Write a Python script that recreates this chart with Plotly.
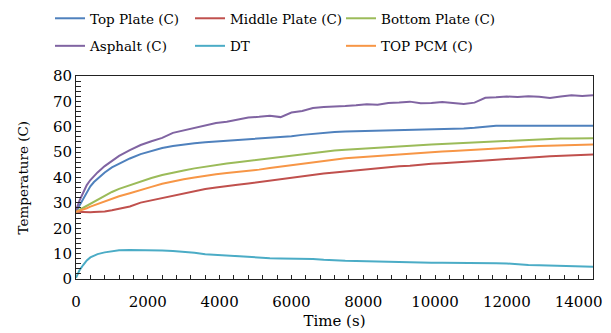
import plotly.graph_objects as go

time_s = [0, 100, 200, 300, 400, 500, 600, 800, 1000, 1200, 1500, 1800, 2100, 2400, 2700,
          3000, 3300, 3600, 3900, 4200, 4500, 4800, 5100, 5400, 5700, 6000, 6300, 6600,
          6900, 7200, 7500, 7800, 8100, 8400, 8700, 9000, 9300, 9600, 9900, 10200, 10500,
          10800, 11100, 11400, 11700, 12000, 12300, 12600, 12900, 13200, 13500, 13800,
          14100, 14400]

top_plate = [26.5, 29, 31.5, 34.5, 36.5, 38.2, 39.5, 42, 44, 45.5, 47.5, 49.2, 50.5, 51.6,
             52.4, 53, 53.5, 53.9, 54.2, 54.5, 54.8, 55.1, 55.3, 55.5, 55.9, 56.3, 56.8,
             57.2, 57.6, 57.9, 58.1, 58.2, 58.4, 58.5, 58.7, 58.8, 58.8, 58.9, 58.9, 59.0,
             59.0, 59.3, 59.6, 60.0, 60.4, 60.4, 60.4, 60.4, 60.4, 60.4, 60.4, 60.4, 60.4,
             60.4]

middle_plate = [26.5, 26.4, 26.3, 26.3, 26.3, 26.4, 26.5, 26.6, 27.1, 27.7, 28.6, 30.1, 31,
                32, 32.9, 33.8, 34.6, 35.5, 36.1, 36.7, 37.1, 37.6, 38.2, 38.8, 39.4, 40,
                40.6, 41.1, 41.6, 42, 42.4, 42.9, 43.3, 43.7, 44.1, 44.4, 44.6, 45.1, 45.4,
                45.6, 45.8, 46.1, 46.4, 46.7, 47, 47.2, 47.5, 47.8, 48.1, 48.4, 48.6, 48.8,
                49, 49.1]

bottom_plate = [26.5, 27.3, 28.2, 29, 29.8, 30.6, 31.3, 33, 34.3, 35.5, 37.0, 38.5, 39.8,
                41, 42, 42.8, 43.6, 44.3, 44.9, 45.5, 46, 46.5, 47, 47.4, 48, 48.6, 49.1,
                49.7, 50.2, 50.6, 50.9, 51.2, 51.5, 51.8, 52.1, 52.3, 52.5, 52.8, 53, 53.2,
                53.4, 53.7, 54, 54.2, 54.4, 54.6, 54.8, 55, 55.1, 55.2, 55.4, 55.4, 55.4,
                55.5]

asphalt = [27, 31, 34, 37, 39, 40.5, 42, 44.5, 46.5, 48.5, 50.8, 52.8, 54.3, 55.6, 57.6,
           58.6, 59.6, 60.5, 61.5, 62.0, 62.8, 63.6, 63.9, 64.3, 63.8, 65.6, 66.2, 67.4,
           67.8, 67.9, 68.2, 68.5, 68.9, 68.7, 69.4, 69.6, 69.9, 69.3, 69.4, 69.8, 69.3,
           69.0, 69.5, 71.4, 71.6, 71.9, 71.7, 72.0, 71.8, 71.3, 71.9, 72.4, 72.1, 72.4]

dt = [0.5, 3.5, 5.5, 7.3, 8.5, 9.3, 9.8, 10.5, 11, 11.3, 11.4, 11.4, 11.3, 11.2, 11, 10.7,
      10.3, 9.8, 9.5, 9.3, 9, 8.8, 8.5, 8.2, 8.1, 8.1, 8, 7.9, 7.6, 7.3, 7.2, 7.1, 7, 6.9,
      6.7, 6.5, 6.4, 6.4, 6.4, 6.4, 6.4, 6.4, 6.3, 6.2, 6.2, 6.1, 5.7, 5.5, 5.4, 5.3, 5.1,
      5.1, 5.0, 4.8]

top_pcm = [26.5, 26.9, 27.4, 27.9, 28.5, 29, 29.6, 30.8, 31.8, 32.6, 33.8, 35.2, 36.3, 37.5,
           38.5, 39.3, 40, 40.7, 41.3, 41.8, 42.2, 42.6, 43.1, 43.7, 44.3, 44.9, 45.5, 46.1,
           46.7, 47.2, 47.6, 47.9, 48.2, 48.6, 48.9, 49.2, 49.5, 49.8, 50, 50.2, 50.4, 50.7,
           51, 51.3, 51.6, 51.8, 52, 52.2, 52.4, 52.5, 52.6, 52.8, 52.9, 53]

series_names = ["Top Plate (C)", "Middle Plate (C)", "Bottom Plate (C)",
                "Asphalt (C)", "DT", "TOP PCM (C)"]
series_values = [top_plate, middle_plate, bottom_plate, asphalt, dt, top_pcm]
series_colors = ["#4F81BD", "#C0504D", "#9BBB59", "#8064A2", "#4BACC6", "#F79646"]
legend_ids = ["legend", "legend2", "legend3", "legend", "legend2", "legend3"]

FONT = "DejaVu Serif, serif"

fig = go.Figure()
for name, vals, col, lg in zip(series_names, series_values, series_colors, legend_ids):
    fig.add_trace(go.Scatter(x=time_s, y=vals, mode="lines", name=name,
                             line=dict(color=col, width=2), legend=lg,
                             legendgroup=name))

W, H = 611, 333
ML, MR, MT, MB = 76, 18, 76, 54
def leg(px_x):
    return dict(xref="container", yref="container", x=px_x / W, y=1 - 3 / H,
                xanchor="left", yanchor="top", orientation="v",
                font=dict(family=FONT, size=13.5, color="#000"),
                bgcolor="rgba(0,0,0,0)", tracegroupgap=7, itemwidth=30)

fig.update_layout(
    width=W, height=H,
    margin=dict(l=ML, r=MR, t=MT, b=MB, autoexpand=False),
    plot_bgcolor="white", paper_bgcolor="white",
    font=dict(family=FONT, size=15, color="#000"),
    legend=leg(50), legend2=leg(190), legend3=leg(341),
    xaxis=dict(range=[0, 14400], tick0=0, dtick=2000, tickformat="d",
               showgrid=False, zeroline=False,
               showline=True, linecolor="#222", linewidth=1, mirror=True,
               ticks="inside", ticklen=4, tickcolor="#222",
               minor=dict(dtick=400, ticks="inside", ticklen=4, tickcolor="#222",
                          showgrid=False),
               ticklabelstandoff=9,
               title=dict(text="Time (s)", standoff=5,
                          font=dict(family=FONT, size=15))),
    yaxis=dict(range=[0, 80], tick0=0, dtick=10, tickformat="d",
               showgrid=False, zeroline=False,
               showline=True, linecolor="#222", linewidth=1, mirror=True,
               ticks="inside", ticklen=5, tickcolor="#222",
               minor=dict(dtick=2, ticks="inside", ticklen=5, tickcolor="#222",
                          showgrid=False)),
    annotations=[dict(text="Temperature (C)", textangle=-90, showarrow=False,
                      xref="paper", yref="paper",
                      x=(22 - ML) / (W - ML - MR), y=0.5,
                      xanchor="center", yanchor="middle",
                      font=dict(family=FONT, size=13.5, color="#000"))],
)

fig.write_html("out.html")
